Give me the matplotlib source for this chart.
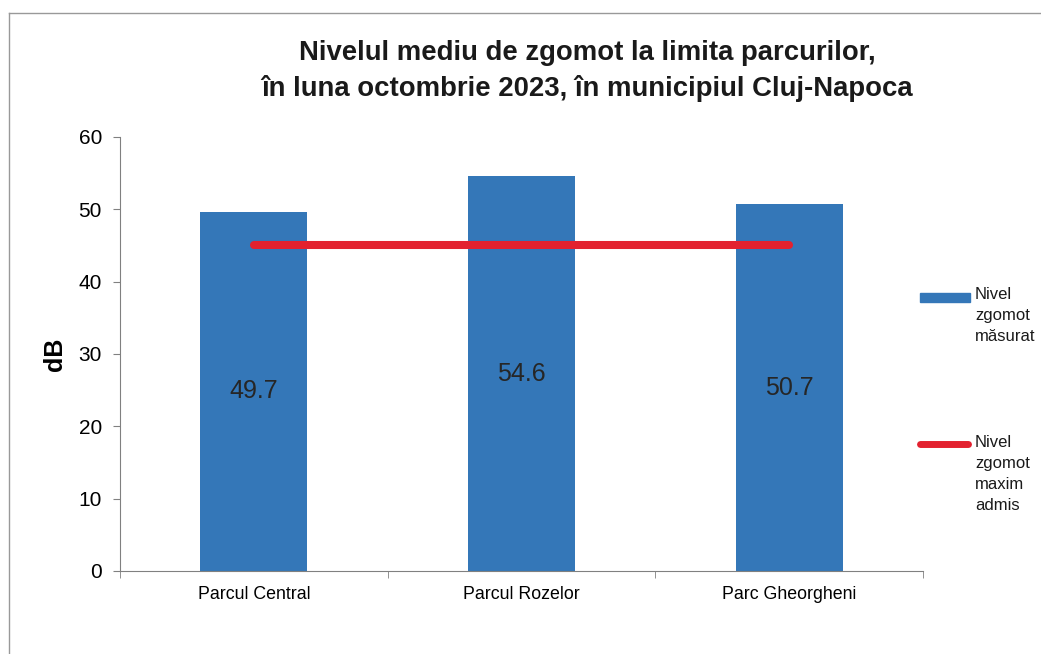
import numpy as np
import matplotlib.pyplot as plt
from matplotlib.lines import Line2D
from matplotlib.patches import Rectangle

# data
parcuri = ["Parcul Central", "Parcul Rozelor", "Parc Gheorgheni"]
nivel_masurat = [49.7, 54.6, 50.7]
nivel_maxim = [45, 45, 45]
legend_labels = ["Nivel\nzgomot\nmăsurat", "Nivel\nzgomot\nmaxim\nadmis"]
y_ticks = [0, 10, 20, 30, 40, 50, 60]

titlu = "Nivelul mediu de zgomot la limita parcurilor,\nîn luna octombrie 2023, în municipiul Cluj-Napoca"

blue = "#3477B8"
red = "#E3212F"

plt.rcParams['font.family'] = ['Liberation Sans', 'DejaVu Sans']

fig = plt.figure(figsize=(10.41, 6.54), dpi=100)
ax = fig.add_axes([120/1041, 1-571/654, (923-120)/1041, (571-137)/654])

x = np.arange(len(parcuri))
bars = ax.bar(x, nivel_masurat, width=0.4, color=blue, zorder=2)
ax.plot(x, nivel_maxim, color=red, lw=5.8, solid_capstyle='round', zorder=3)

# value labels in the middle of the bars
for b, v in zip(bars, nivel_masurat):
    ax.text(b.get_x() + b.get_width()/2, v/2, f"{v:.1f}", ha='center', va='center',
            fontsize=18, color='#262626', zorder=4)

ax.set_xlim(-0.5, len(parcuri) - 0.5)
ax.set_ylim(0, 60)
ax.set_yticks(y_ticks)
ax.set_xticks(x)
ax.set_xticklabels(parcuri, fontsize=12.8)
ax.set_xticks(np.arange(len(parcuri) + 1) - 0.5, minor=True)
ax.tick_params(axis='x', which='major', length=0, pad=11)
ax.tick_params(axis='x', which='minor', length=5, color='#808080', direction='out')
ax.tick_params(axis='y', labelsize=15, length=5, color='#808080', pad=8)

for s in ['top', 'right']:
    ax.spines[s].set_visible(False)
for s in ['left', 'bottom']:
    ax.spines[s].set_color('#808080')

ax.set_ylabel("dB", fontsize=18, fontweight='bold', labelpad=8)

fig.text(587/1041, 1-71/654, titlu, ha='center', va='center', fontsize=19.8,
         fontweight='bold', linespacing=1.42, color='#1a1a1a')

# legend on the right side
fig.add_artist(Rectangle((920/1041, 1-302/654), 50/1041, 9/654, color=blue,
                         transform=fig.transFigure))
fig.add_artist(Line2D([920/1041, 968/1041], [1-444/654, 1-444/654], color=red, lw=5,
                      solid_capstyle='round', transform=fig.transFigure))
fig.text(975/1041, 1-287/654, legend_labels[0], ha='left', va='top', fontsize=12,
         linespacing=1.5, color='#1a1a1a')
fig.text(975/1041, 1-435/654, legend_labels[1], ha='left', va='top', fontsize=12,
         linespacing=1.5, color='#1a1a1a')

# scanned frame border
fig.add_artist(Line2D([9/1041, 9/1041], [0, 1-13/654], color='#999999', lw=1,
                      transform=fig.transFigure))
fig.add_artist(Line2D([9/1041, 1], [1-13/654, 1-13/654], color='#999999', lw=1,
                      transform=fig.transFigure))

fig.savefig("out.png", dpi=100)
